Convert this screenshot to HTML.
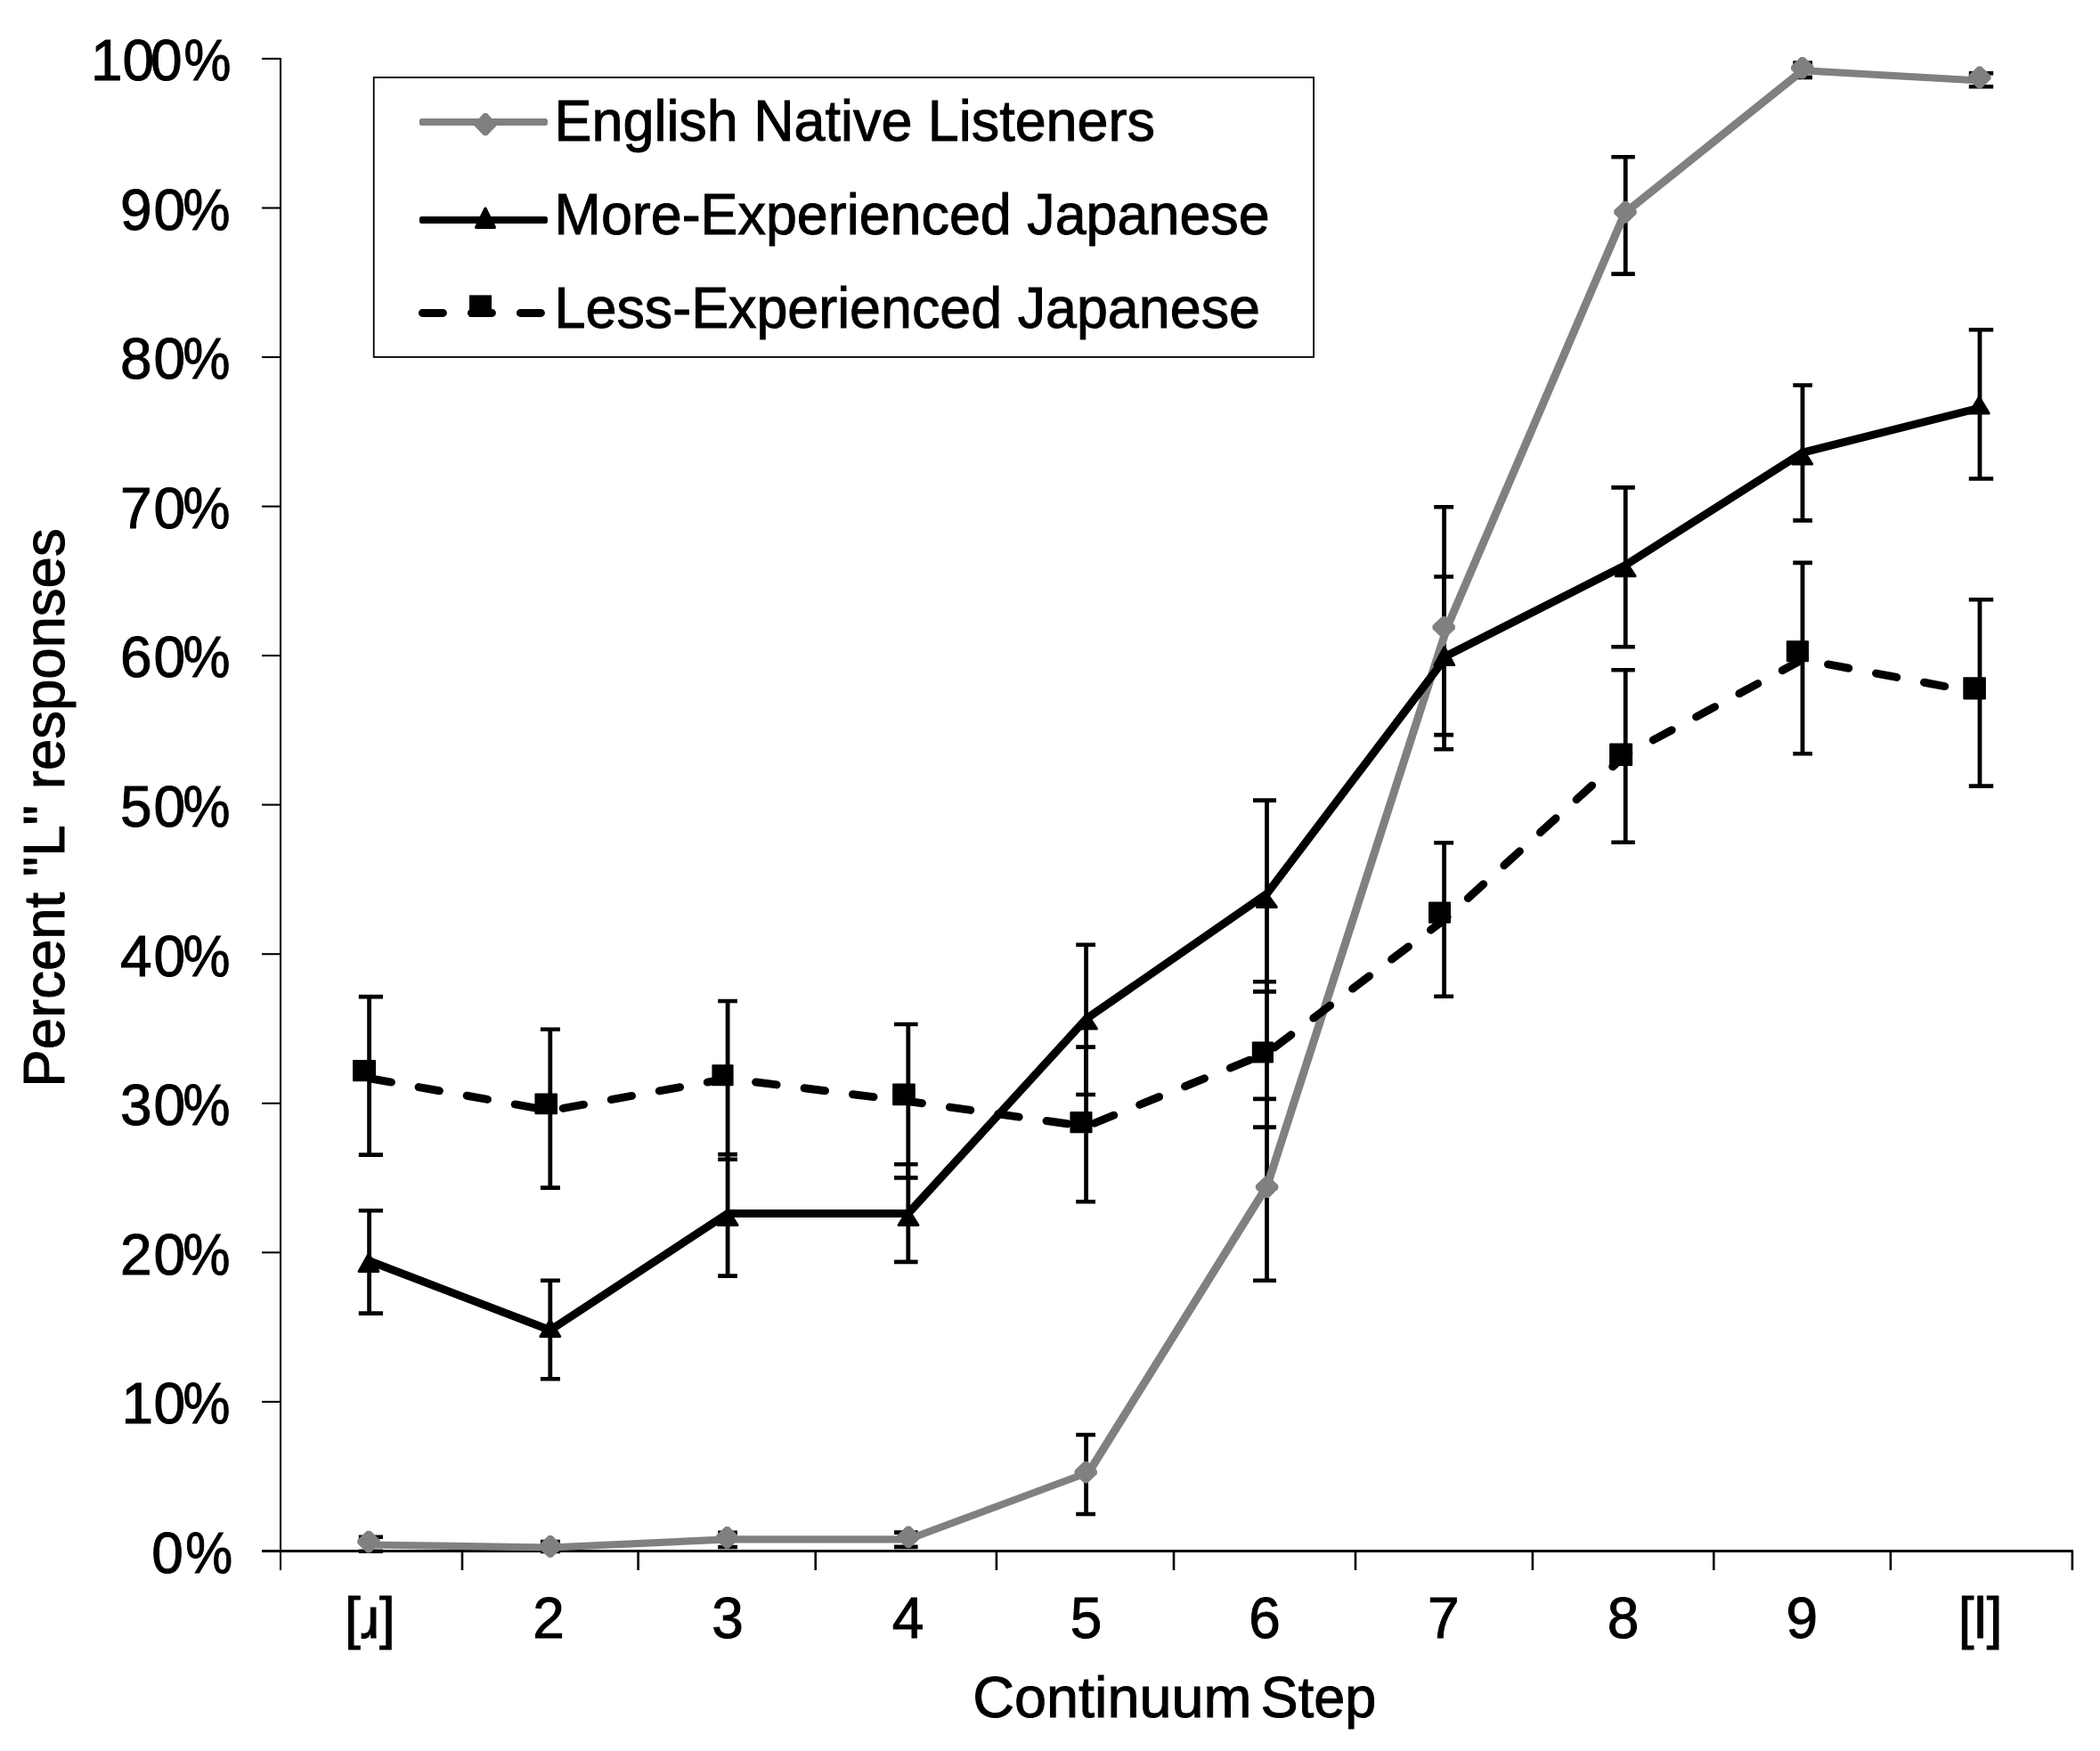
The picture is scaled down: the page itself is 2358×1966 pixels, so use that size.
<!DOCTYPE html>
<html lang="en"><head><meta charset="utf-8"><title>Percent L responses by continuum step</title>
<style>html,body{margin:0;padding:0;background:#fff}body{width:2358px;height:1966px;overflow:hidden}svg{display:block}text{font-family:"Liberation Sans",Arial,sans-serif;font-size:64px;fill:#000;stroke:#000;stroke-width:1px}</style>
</head><body>
<svg width="2358" height="1966" viewBox="0 0 2358 1966" role="img" aria-label="Line chart of percent L responses by continuum step">
<rect width="2358" height="1966" fill="#fff"/>
<g stroke="#000" fill="none">
<line x1="315" y1="64.9" x2="315" y2="1763" stroke-width="2.1"/>
<line x1="294" y1="1741.4" x2="2328" y2="1741.4" stroke-width="3"/>
<line x1="294" y1="65.9" x2="315" y2="65.9" stroke-width="2.1"/>
<line x1="294" y1="233.5" x2="315" y2="233.5" stroke-width="2.1"/>
<line x1="294" y1="401.0" x2="315" y2="401.0" stroke-width="2.1"/>
<line x1="294" y1="568.6" x2="315" y2="568.6" stroke-width="2.1"/>
<line x1="294" y1="736.1" x2="315" y2="736.1" stroke-width="2.1"/>
<line x1="294" y1="903.6" x2="315" y2="903.6" stroke-width="2.1"/>
<line x1="294" y1="1071.2" x2="315" y2="1071.2" stroke-width="2.1"/>
<line x1="294" y1="1238.8" x2="315" y2="1238.8" stroke-width="2.1"/>
<line x1="294" y1="1406.3" x2="315" y2="1406.3" stroke-width="2.1"/>
<line x1="294" y1="1573.9" x2="315" y2="1573.9" stroke-width="2.1"/>
<line x1="519.0" y1="1741.4" x2="519.0" y2="1763" stroke-width="2.6"/>
<line x1="716.6" y1="1741.4" x2="716.6" y2="1763" stroke-width="2.6"/>
<line x1="915.7" y1="1741.4" x2="915.7" y2="1763" stroke-width="2.6"/>
<line x1="1118.9" y1="1741.4" x2="1118.9" y2="1763" stroke-width="2.6"/>
<line x1="1318.0" y1="1741.4" x2="1318.0" y2="1763" stroke-width="2.6"/>
<line x1="1522.0" y1="1741.4" x2="1522.0" y2="1763" stroke-width="2.6"/>
<line x1="1720.9" y1="1741.4" x2="1720.9" y2="1763" stroke-width="2.6"/>
<line x1="1924.3" y1="1741.4" x2="1924.3" y2="1763" stroke-width="2.6"/>
<line x1="2122.9" y1="1741.4" x2="2122.9" y2="1763" stroke-width="2.6"/>
<line x1="2326.9" y1="1741.4" x2="2326.9" y2="1763" stroke-width="2.6"/>
</g>
<text y="90.2"><tspan x="102.0 137.5 168.9">100</tspan><tspan x="206.5" textLength="52.9" lengthAdjust="spacingAndGlyphs">%</tspan></text>
<text y="257.8"><tspan x="135.0 172.4">90</tspan><tspan x="205.4" textLength="52.9" lengthAdjust="spacingAndGlyphs">%</tspan></text>
<text y="425.3"><tspan x="135.0 172.4">80</tspan><tspan x="205.4" textLength="52.9" lengthAdjust="spacingAndGlyphs">%</tspan></text>
<text y="592.9"><tspan x="135.0 172.4">70</tspan><tspan x="205.4" textLength="52.9" lengthAdjust="spacingAndGlyphs">%</tspan></text>
<text y="760.4"><tspan x="135.0 172.4">60</tspan><tspan x="205.4" textLength="52.9" lengthAdjust="spacingAndGlyphs">%</tspan></text>
<text y="927.9"><tspan x="135.0 172.4">50</tspan><tspan x="205.4" textLength="52.9" lengthAdjust="spacingAndGlyphs">%</tspan></text>
<text y="1095.5"><tspan x="135.0 172.4">40</tspan><tspan x="205.4" textLength="52.9" lengthAdjust="spacingAndGlyphs">%</tspan></text>
<text y="1263.1"><tspan x="135.0 172.4">30</tspan><tspan x="205.4" textLength="52.9" lengthAdjust="spacingAndGlyphs">%</tspan></text>
<text y="1430.6"><tspan x="135.0 172.4">20</tspan><tspan x="205.4" textLength="52.9" lengthAdjust="spacingAndGlyphs">%</tspan></text>
<text y="1598.2"><tspan x="136.5 172.4">10</tspan><tspan x="205.4" textLength="52.9" lengthAdjust="spacingAndGlyphs">%</tspan></text>
<text y="1765.7"><tspan x="170.3">0</tspan><tspan x="208.2" textLength="52.9" lengthAdjust="spacingAndGlyphs">%</tspan></text>
<text transform="translate(415.4 1838.5)" text-anchor="middle">[ɹ]</text>
<text transform="translate(616.0 1838.5)" text-anchor="middle">2</text>
<text transform="translate(817.0 1838.5)" text-anchor="middle">3</text>
<text transform="translate(1019.5 1838.5)" text-anchor="middle">4</text>
<text transform="translate(1219.5 1838.5)" text-anchor="middle">5</text>
<text transform="translate(1420.0 1838.5)" text-anchor="middle">6</text>
<text transform="translate(1620.8 1838.5)" text-anchor="middle">7</text>
<text transform="translate(1822.6 1838.5)" text-anchor="middle">8</text>
<text transform="translate(2023.2 1838.5)" text-anchor="middle">9</text>
<text transform="translate(2223.7 1838.5)" text-anchor="middle">[l]</text>
<text y="1927.5"><tspan x="1092.3" textLength="313.1" lengthAdjust="spacingAndGlyphs">Continuum</tspan> <tspan x="1415.6" textLength="129.7" lengthAdjust="spacingAndGlyphs">Step</tspan></text>
<text transform="translate(71.5 907.0) rotate(-90) scale(0.9920 1)" text-anchor="middle">Percent "L" responses</text>
<rect x="419.7" y="86.9" width="1055.4" height="314" fill="#fff" stroke="#000" stroke-width="1.8"/>
<rect x="470.9" y="132.9" width="144" height="8" rx="2.5" fill="#808080"/>
<path d="M543.2 127L546.8 127L557.3 138.8L557.3 141.6L546.8 152.2L543.2 152.2L532.7 141.6L532.7 138.8Z" fill="#808080"/>
<rect x="470.9" y="242.9" width="144" height="8" rx="2.5" fill="#000"/>
<path d="M545 234.3L555.3 255.2L534.7 255.2Z" fill="#000" stroke="#000" stroke-width="3.4" stroke-linejoin="round"/>
<line x1="474.4" y1="351.4" x2="612" y2="351.4" stroke="#000" stroke-width="9" stroke-linecap="round" stroke-dasharray="23 32"/>
<rect x="527" y="331.4" width="25" height="24.3" fill="#000"/>
<text transform="translate(622.6 158.0) scale(0.9824 1)">English Native Listeners</text>
<text transform="translate(622.6 263.1) scale(0.9815 1)">More-Experienced Japanese</text>
<text transform="translate(622.6 368.3) scale(0.9813 1)">Less-Experienced Japanese</text>
<g stroke="#000" fill="none">
<path d="M414.6 1725.7V1741.7" stroke-width="4.8"/>
<path d="M402.8 1725.7H430.0M402.8 1741.7H430.0" stroke-width="4.6"/>
<path d="M617.8 1731.0V1742.0" stroke-width="4.8"/>
<path d="M606.9 1731.0H628.9M606.9 1742.0H628.9" stroke-width="4.6"/>
<path d="M817.1 1720.7V1737.0" stroke-width="4.8"/>
<path d="M806.2 1720.7H827.9M806.2 1737.0H827.9" stroke-width="4.6"/>
<path d="M1019.8 1720.6V1736.9" stroke-width="4.8"/>
<path d="M1004.0 1720.6H1030.6M1004.0 1736.9H1030.6" stroke-width="4.6"/>
<path d="M1219.6 1611.0V1700.0" stroke-width="4.8"/>
<path d="M1208.2 1611.0H1230.0M1208.2 1700.0H1230.0" stroke-width="4.6"/>
<path d="M1422.5 1233.9V1437.7" stroke-width="4.8"/>
<path d="M1407.0 1233.9H1433.0M1407.0 1437.7H1433.0" stroke-width="4.6"/>
<path d="M1621.6 569.3V841.3" stroke-width="4.8"/>
<path d="M1610.2 569.3H1632.1M1610.2 841.3H1632.1" stroke-width="4.6"/>
<path d="M1825.2 176.3V307.6" stroke-width="4.8"/>
<path d="M1809.3 176.3H1835.8M1809.3 307.6H1835.8" stroke-width="4.6"/>
<path d="M2024.0 70.6V86.9" stroke-width="4.8"/>
<path d="M2013.3 70.6H2035.0M2013.3 86.9H2035.0" stroke-width="4.6"/>
<path d="M2223.0 82.2V97.3" stroke-width="4.8"/>
<path d="M2210.8 82.2H2238.2M2210.8 97.3H2238.2" stroke-width="4.6"/>
</g>
<g stroke="#000" fill="none">
<path d="M414.6 1359.2V1474.6" stroke-width="4.8"/>
<path d="M402.8 1359.2H430.0M402.8 1474.6H430.0" stroke-width="4.6"/>
<path d="M617.8 1437.8V1548.3" stroke-width="4.8"/>
<path d="M606.9 1437.8H628.9M606.9 1548.3H628.9" stroke-width="4.6"/>
<path d="M817.1 1296.1V1432.6" stroke-width="4.8"/>
<path d="M806.2 1296.1H827.9M806.2 1432.6H827.9" stroke-width="4.6"/>
<path d="M1019.8 1307.3V1416.9" stroke-width="4.8"/>
<path d="M1004.0 1307.3H1030.6M1004.0 1416.9H1030.6" stroke-width="4.6"/>
<path d="M1219.6 1060.8V1229.0" stroke-width="4.8"/>
<path d="M1208.2 1060.8H1230.0M1208.2 1229.0H1230.0" stroke-width="4.6"/>
<path d="M1422.5 898.6V1113.4" stroke-width="4.8"/>
<path d="M1407.0 898.6H1433.0M1407.0 1113.4H1433.0" stroke-width="4.6"/>
<path d="M1621.6 647.5V825.1" stroke-width="4.8"/>
<path d="M1610.2 647.5H1632.1M1610.2 825.1H1632.1" stroke-width="4.6"/>
<path d="M1825.2 547.4V726.2" stroke-width="4.8"/>
<path d="M1809.3 547.4H1835.8M1809.3 726.2H1835.8" stroke-width="4.6"/>
<path d="M2024.0 432.5V584.4" stroke-width="4.8"/>
<path d="M2013.3 432.5H2035.0M2013.3 584.4H2035.0" stroke-width="4.6"/>
<path d="M2223.0 370.3V537.5" stroke-width="4.8"/>
<path d="M2210.8 370.3H2238.2M2210.8 537.5H2238.2" stroke-width="4.6"/>
</g>
<g stroke="#000" fill="none">
<path d="M414.6 1119.1V1296.6" stroke-width="4.8"/>
<path d="M402.8 1119.1H430.0M402.8 1296.6H430.0" stroke-width="4.6"/>
<path d="M617.8 1155.7V1333.6" stroke-width="4.8"/>
<path d="M606.9 1155.7H628.9M606.9 1333.6H628.9" stroke-width="4.6"/>
<path d="M817.1 1124.0V1301.8" stroke-width="4.8"/>
<path d="M806.2 1124.0H827.9M806.2 1301.8H827.9" stroke-width="4.6"/>
<path d="M1019.8 1150.0V1322.4" stroke-width="4.8"/>
<path d="M1004.0 1150.0H1030.6M1004.0 1322.4H1030.6" stroke-width="4.6"/>
<path d="M1219.6 1175.6V1349.2" stroke-width="4.8"/>
<path d="M1208.2 1175.6H1230.0M1208.2 1349.2H1230.0" stroke-width="4.6"/>
<path d="M1422.5 1102.3V1265.6" stroke-width="4.8"/>
<path d="M1407.0 1102.3H1433.0M1407.0 1265.6H1433.0" stroke-width="4.6"/>
<path d="M1621.6 946.3V1118.8" stroke-width="4.8"/>
<path d="M1610.2 946.3H1632.1M1610.2 1118.8H1632.1" stroke-width="4.6"/>
<path d="M1825.2 752.2V945.8" stroke-width="4.8"/>
<path d="M1809.3 752.2H1835.8M1809.3 945.8H1835.8" stroke-width="4.6"/>
<path d="M2024.0 631.9V846.2" stroke-width="4.8"/>
<path d="M2013.3 631.9H2035.0M2013.3 846.2H2035.0" stroke-width="4.6"/>
<path d="M2223.0 673.2V882.6" stroke-width="4.8"/>
<path d="M2210.8 673.2H2238.2M2210.8 882.6H2238.2" stroke-width="4.6"/>
</g>
<polyline points="414.6,1734.5 617.8,1737.5 817.1,1728.4 1019.8,1728.4 1222.6,1653.0" fill="none" stroke="#808080" stroke-width="8.1" stroke-linejoin="round" stroke-linecap="round"/>
<polyline points="1222.6,1653.0 1423.0,1331.0 1625.0,704.0 1824.5,239.0 2024.0,79.2" fill="none" stroke="#808080" stroke-width="9" stroke-linejoin="round" stroke-linecap="round"/>
<polyline points="2024.0,79.2 2223.0,90.5" fill="none" stroke="#808080" stroke-width="8.1" stroke-linejoin="round" stroke-linecap="round"/>
<g fill="#808080">
<path d="M412.0 1718.8L416.0 1718.8L426.7 1729.1L426.7 1733.1L416.0 1743.4L412.0 1743.4L401.3 1733.1L401.3 1729.1Z"/>
<path d="M615.9 1724.1L619.9 1724.1L630.6 1734.4L630.6 1738.4L619.9 1748.7L615.9 1748.7L605.2 1738.4L605.2 1734.4Z"/>
<path d="M814.4 1714.1L818.4 1714.1L829.1 1724.4L829.1 1728.4L818.4 1738.7L814.4 1738.7L803.7 1728.4L803.7 1724.4Z"/>
<path d="M1018.0 1713.4L1022.0 1713.4L1032.7 1723.7L1032.7 1727.7L1022.0 1738.0L1018.0 1738.0L1007.3 1727.7L1007.3 1723.7Z"/>
<path d="M1217.2 1640.7L1221.2 1640.7L1231.9 1651.0L1231.9 1655.0L1221.2 1665.3L1217.2 1665.3L1206.5 1655.0L1206.5 1651.0Z"/>
<path d="M1420.6 1320.4L1424.6 1320.4L1435.3 1330.7L1435.3 1334.7L1424.6 1345.0L1420.6 1345.0L1409.9 1334.7L1409.9 1330.7Z"/>
<path d="M1619.2 691.9L1623.2 691.9L1633.9 702.2L1633.9 706.2L1623.2 716.5L1619.2 716.5L1608.5 706.2L1608.5 702.2Z"/>
<path d="M1823.0 225.8L1827.0 225.8L1837.7 236.1L1837.7 240.1L1827.0 250.4L1823.0 250.4L1812.3 240.1L1812.3 236.1Z"/>
<path d="M2021.8 63.9L2025.8 63.9L2036.5 74.2L2036.5 78.2L2025.8 88.5L2021.8 88.5L2011.1 78.2L2011.1 74.2Z"/>
<path d="M2220.8 74.6L2224.8 74.6L2235.5 84.9L2235.5 88.9L2224.8 99.2L2220.8 99.2L2210.1 88.9L2210.1 84.9Z"/>
</g>
<polyline points="414.6,1415.7 617.8,1493.5 817.1,1362.4 1019.8,1362.4 1219.6,1144.0 1422.5,1003.5 1625.0,736.1 1825.2,634.5 2024.0,508.2 2223.0,458.0" fill="none" stroke="#000" stroke-width="9" stroke-linejoin="round" stroke-linecap="round"/>
<g fill="#000" stroke="#000" stroke-width="3" stroke-linejoin="round">
<path d="M414.0 1408.0L424.9 1427.4L403.1 1427.4Z"/>
<path d="M617.8 1482.2L628.7 1500.5L606.9 1500.5Z"/>
<path d="M817.1 1358.0L828.0 1375.5L806.2 1375.5Z"/>
<path d="M1020.0 1358.0L1030.9 1375.5L1009.1 1375.5Z"/>
<path d="M1220.5 1138.0L1231.4 1155.0L1209.6 1155.0Z"/>
<path d="M1422.4 1003.5L1433.3 1018.5L1411.5 1018.5Z"/>
<path d="M1621.8 726.7L1632.7 746.6L1610.9 746.6Z"/>
<path d="M1825.2 630.0L1836.1 646.8L1814.3 646.8Z"/>
<path d="M2023.7 503.5L2034.6 521.1L2012.8 521.1Z"/>
<path d="M2222.3 446.0L2233.2 464.0L2211.4 464.0Z"/>
</g>
<polyline points="414.6,1210.7 617.8,1247.0 817.1,1211.0 1019.8,1236.5 1219.6,1264.8 1422.5,1182.4 1621.6,1032.8 1825.2,847.7 2024.0,740.5 2223.0,778.0" fill="none" stroke="#000" stroke-width="9" stroke-linejoin="round" stroke-linecap="round" stroke-dasharray="23.6 31.3" stroke-dashoffset="-1.5"/>
<g fill="#000">
<rect x="396.0" y="1190.0" width="26.0" height="24.3" rx="1"/>
<rect x="600.4" y="1227.6" width="25.6" height="23.7" rx="1"/>
<rect x="799.4" y="1195.3" width="24.2" height="24.0" rx="1"/>
<rect x="1002.1" y="1216.5" width="25.7" height="24.8" rx="1"/>
<rect x="1201.4" y="1247.9" width="25.1" height="24.3" rx="1"/>
<rect x="1405.8" y="1169.4" width="24.2" height="24.2" rx="1"/>
<rect x="1604.0" y="1012.6" width="25.0" height="24.1" rx="1"/>
<rect x="1807.1" y="834.5" width="26.0" height="25.5" rx="1"/>
<rect x="2005.8" y="719.2" width="25.2" height="24.0" rx="1"/>
<rect x="2204.3" y="760.2" width="25.6" height="25.3" rx="1"/>
</g>
</svg>
</body></html>
